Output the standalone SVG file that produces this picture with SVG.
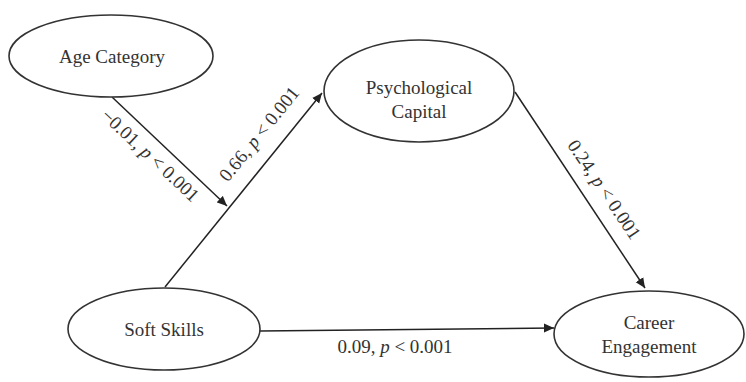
<svg xmlns="http://www.w3.org/2000/svg" width="746" height="382" viewBox="0 0 746 382">
<defs>
<marker id="arr" viewBox="0 0 10 10" refX="10" refY="5" markerWidth="10" markerHeight="10" markerUnits="userSpaceOnUse" orient="auto">
<path d="M0,0.5 L10,5 L0,9.5 Z" fill="#222"/>
</marker>
<style>
.node ellipse{fill:#fff;stroke:#333;stroke-width:1.6}
.node text{font-family:"Liberation Serif","Times New Roman",serif;font-size:19px;fill:#333;text-anchor:middle}
.edge line{stroke:#222;stroke-width:1.5;marker-end:url(#arr)}
.lbl{font-family:"Liberation Serif","Times New Roman",serif;font-size:19px;fill:#333;text-anchor:middle}
</style>
</defs>
<rect width="746" height="382" fill="#fff"/>
<g id="connectors" class="edge">
<line x1="112" y1="97" x2="227" y2="206"/>
<line x1="165" y1="287" x2="322" y2="93"/>
<line x1="515" y1="92" x2="645" y2="288"/>
<line x1="260" y1="331" x2="554" y2="328"/>
</g>
<g id="labels">
<text class="lbl" transform="translate(146,160) rotate(43)">−0.01, <tspan font-style="italic">p</tspan> &lt; 0.001</text>
<text class="lbl" transform="translate(264,138) rotate(-51)">0.66, <tspan font-style="italic">p</tspan> &lt; 0.001</text>
<text class="lbl" transform="translate(599,193) rotate(56)">0.24, <tspan font-style="italic">p</tspan> &lt; 0.001</text>
<text class="lbl" x="395" y="353">0.09, <tspan font-style="italic">p</tspan> &lt; 0.001</text>
</g>
<g id="age" class="node">
<ellipse cx="111" cy="56" rx="102" ry="41"/>
<text x="112" y="63">Age Category</text>
</g>
<g id="psych" class="node">
<ellipse cx="419" cy="91" rx="95" ry="51"/>
<text x="419" y="94">Psychological</text>
<text x="419" y="118">Capital</text>
</g>
<g id="soft" class="node">
<ellipse cx="164" cy="329" rx="96" ry="41"/>
<text x="164" y="336">Soft Skills</text>
</g>
<g id="career" class="node">
<ellipse cx="649" cy="334" rx="95" ry="43"/>
<text x="649" y="329">Career</text>
<text x="649" y="353">Engagement</text>
</g>
</svg>
